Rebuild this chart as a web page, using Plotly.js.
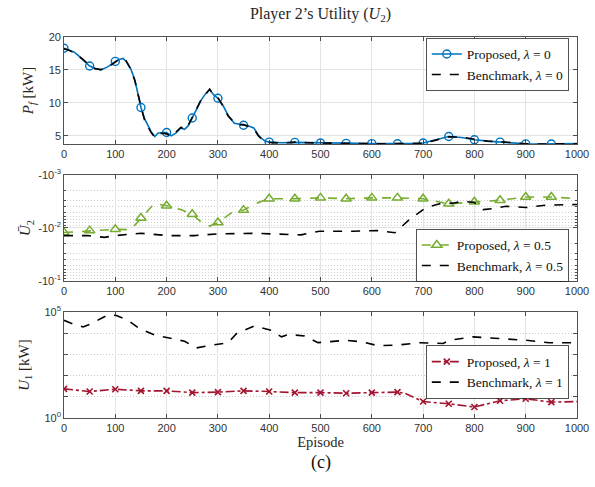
<!DOCTYPE html>
<html><head><meta charset="utf-8">
<script src="https://cdn.plot.ly/plotly-3.0.1.min.js"></script>
<style>html,body{margin:0;padding:0;background:#fff}#chart{width:595px;height:487px}</style>
</head><body><div id="chart"></div>
<script>
// ---------- data ----------
const episodeTicks = [0,100,200,300,400,500,600,700,800,900,1000];

// Panel 1: P_f [kW], lambda = 0
const pfEpisodes = [0,10,20,27,37,50,60,72,86,100,108,115,121,130,138,150,157,164,170,177,183,192,200,209,218,228,235,242,250,259,268,276,284,292,300,310,320,332,341,350,360,370,378,385,392,400,425,450,475,500,525,550,575,600,625,650,675,700,725,750,775,800,825,850,875,900,925,950,975,1000];
const pfProposed = [18.3,18.0,17.7,17.25,16.5,15.6,15.25,15.0,15.5,16.3,16.6,16.75,16.3,15.2,13.5,9.3,7.6,6.4,5.6,4.9,5.4,5.5,5.5,5.0,5.4,6.2,6.0,6.5,7.7,9.0,10.5,11.4,12.0,11.2,10.7,9.6,8.1,6.9,6.8,6.6,6.5,6.2,5.2,4.6,4.2,4.05,3.95,4.0,3.95,3.9,3.85,3.85,3.85,3.82,3.8,3.8,3.82,3.9,4.4,4.9,4.75,4.4,4.2,4.05,3.9,3.78,3.75,3.75,3.78,3.82];
const pfBenchmark = [18.2,18.0,17.6,17.2,16.6,15.7,15.2,15.05,15.45,16.2,16.65,16.8,16.4,15.1,13.4,9.5,7.4,6.3,5.5,4.8,5.3,5.4,5.3,4.9,5.5,6.3,5.9,6.6,7.8,9.1,10.6,11.3,12.1,11.1,10.8,9.5,8.0,7.0,6.7,6.7,6.4,6.1,5.1,4.5,4.1,4.0,3.9,4.05,3.95,3.9,3.85,3.9,3.85,3.8,3.8,3.8,3.8,3.85,4.35,4.85,4.8,4.45,4.2,4.1,3.9,3.8,3.75,3.75,3.75,3.8];

// Panel 2: U2 bar (negative values, shown by magnitude), lambda = 0.5
const u2PropEpisodes = [0,50,100,130,150,176,200,228,250,268,284,300,326,350,372,400,450,500,550,600,650,700,750,800,850,900,950,1000];
const u2PropMagnitude = [0.0122,0.0112,0.0106,0.0108,0.0065,0.00345,0.0038,0.0045,0.0055,0.0078,0.0092,0.0079,0.0052,0.0046,0.0035,0.0028,0.0028,0.0027,0.0028,0.0027,0.0027,0.0028,0.0035,0.0032,0.0030,0.0026,0.0026,0.0028];
const u2BenchEpisodes = [0,46,79,100,150,202,254,300,371,404,462,485,498,563,612,645,675,706,732,758,777,800,817,836,862,901,940,1000];
const u2BenchMagnitude = [0.0139,0.0139,0.015,0.0139,0.0126,0.0139,0.0139,0.0129,0.0126,0.0129,0.0135,0.0121,0.0115,0.0115,0.0112,0.0123,0.0067,0.0041,0.0035,0.0034,0.00313,0.0033,0.0045,0.0043,0.0039,0.0041,0.0037,0.0036];
const u2TickVals = [0.001,0.01,0.1];
const u2TickText = ['-10<sup>-3</sup>','-10<sup>-2</sup>','-10<sup>-1</sup>'];
const u2MinorVals = [0.002,0.003,0.004,0.005,0.006,0.007,0.008,0.009,0.02,0.03,0.04,0.05,0.06,0.07,0.08,0.09];

// Panel 3: U1 [kW], lambda = 1
const u1PropEpisodes = [0,50,100,150,200,250,300,350,400,450,500,550,600,650,664,700,750,800,850,900,950,1000];
const u1Proposed = [23.7,17.8,22.9,19.1,19.1,15.8,16.6,19.1,17.8,15.8,15.8,14.8,15.8,16.6,14.8,6.0,4.7,3.3,6.5,8.1,5.6,6.0];
const u1BenchEpisodes = [0,20,37,53,86,102,125,147,177,203,235,258,287,320,336,371,404,424,437,469,495,550,583,612,647,693,739,752,797,849,901,946,1000];
const u1Benchmark = [40700,25700,20000,28200,75000,69200,40700,16600,8130,6030,4220,2040,2750,3550,9550,21900,13800,6760,8710,7500,3630,4680,3890,2570,2750,3550,3310,4680,6760,5620,4680,3550,3550];
const u1TickVals = [1,100000];
const u1TickText = ['10<sup>0</sup>','10<sup>5</sup>'];
const u1MinorVals = [10,100,1000,10000];

// ---------- styling ----------
const serif = 'Liberation Serif, "Times New Roman", serif';
const sans = 'Liberation Sans, Arial, sans-serif';
const ink = '#262626';
const markerStep = 50;
function markerColors(xs, col) {
  return xs.map(x => (x % markerStep === 0 && x < 1000) ? col : 'rgba(0,0,0,0)');
}
const blue = '#0072BD', green = '#77AC30', red = '#A2142F';

const traces = [
  {x: pfEpisodes, y: pfProposed, xaxis:'x', yaxis:'y', mode:'lines+markers', name:'Proposed, <i>λ</i> = 0', legend:'legend',
   line:{color:blue, width:1.6}, marker:{symbol:'circle-open', size:8, color:markerColors(pfEpisodes, blue), line:{width:1.4}}},
  {x: pfEpisodes, y: pfBenchmark, xaxis:'x', yaxis:'y', mode:'lines', name:'Benchmark, <i>λ</i> = 0', legend:'legend',
   line:{color:'#000', width:1.6, dash:'dash'}},
  {x: u2PropEpisodes, y: u2PropMagnitude, xaxis:'x2', yaxis:'y2', mode:'lines+markers', name:'Proposed, <i>λ</i> = 0.5', legend:'legend2',
   line:{color:green, width:1.6, dash:'dash'}, marker:{symbol:'triangle-up-open', size:9, color:markerColors(u2PropEpisodes, green), line:{width:1.5}}},
  {x: u2BenchEpisodes, y: u2BenchMagnitude, xaxis:'x2', yaxis:'y2', mode:'lines', name:'Benchmark, <i>λ</i> = 0.5', legend:'legend2',
   line:{color:'#000', width:1.6, dash:'dash'}},
  {x: u1PropEpisodes, y: u1Proposed, xaxis:'x3', yaxis:'y3', mode:'lines+markers', name:'Proposed, <i>λ</i> = 1', legend:'legend3',
   line:{color:red, width:1.6, dash:'dashdot'}, marker:{symbol:'x-thin-open', size:6, color:markerColors(u1PropEpisodes, red), line:{width:1.6}}},
  {x: u1BenchEpisodes, y: u1Benchmark, xaxis:'x3', yaxis:'y3', mode:'lines', name:'Benchmark, <i>λ</i> = 1', legend:'legend3',
   line:{color:'#000', width:1.6, dash:'dash'}}
];

const axBase = {showline:true, linecolor:ink, linewidth:0.8, mirror:'ticks', ticks:'inside', ticklen:4, tickwidth:0.8, tickcolor:ink,
  tickfont:{family:sans, size:11, color:'#333'}, zeroline:false, showgrid:true, gridcolor:'#e3e3e3', gridwidth:1, automargin:false};
function xAx(anchor) {
  return Object.assign({}, axBase, {anchor:anchor, range:[0,1000], tickmode:'array', tickvals:episodeTicks});
}
const legBase = {xanchor:'right', x:0.9844, yanchor:'middle', bgcolor:'#fff', bordercolor:ink, borderwidth:0.8,
  font:{family:serif, size:13.5, color:'#111'}, tracegroupgap:0};
const dotGrid = '1px,2px';

const layout = {
  width:595, height:487,
  margin:{l:64, r:18, t:37, b:69},
  paper_bgcolor:'#fff', plot_bgcolor:'#fff',
  showlegend:true,
  title:{text:'Player 2’s Utility (<i>U</i><sub>2</sub>)', font:{family:serif, size:16, color:ink}, x:0.5, xref:'paper', y:1-13/487, yref:'container', yanchor:'middle'},
  xaxis: xAx('y'),
  xaxis2: xAx('y2'),
  xaxis3: Object.assign(xAx('y3'), {title:{text:'Episode', font:{family:serif, size:14.5, color:ink}, standoff:3}}),
  yaxis: Object.assign({}, axBase, {domain:[0.719,1], range:[3.75,20], tickmode:'array', tickvals:[5,10,15,20],
    title:{text:'<i>P</i><sub><i>f</i></sub> [kW]', font:{family:serif, size:15, color:ink}, standoff:11}}),
  yaxis2: Object.assign({}, axBase, {domain:[0.3596,0.6378], type:'log', range:[-1,-3], tickmode:'array', tickvals:u2TickVals, ticktext:u2TickText,
    minor:{tickmode:'array', tickvals:u2MinorVals, ticks:'inside', ticklen:2, tickcolor:ink, showgrid:true, gridcolor:'#cfcfcf', griddash:dotGrid, gridwidth:1},
    title:{text:'<i>Ū</i><sub>2</sub>', font:{family:serif, size:15, color:ink}, standoff:3}}),
  yaxis3: Object.assign({}, axBase, {domain:[0,0.278], type:'log', range:[0,5], tickmode:'array', tickvals:u1TickVals, ticktext:u1TickText,
    minor:{tickmode:'array', tickvals:u1MinorVals, ticks:'inside', ticklen:4, tickcolor:ink, showgrid:true, gridcolor:'#c8c8c8', griddash:dotGrid, gridwidth:1},
    title:{text:'<i>U</i><sub>1</sub> [kW]', font:{family:serif, size:15, color:ink}, standoff:11}}),
  legend: Object.assign({}, legBase, {y:0.928}),
  legend2: Object.assign({}, legBase, {y:0.4268}),
  legend3: Object.assign({}, legBase, {y:0.1207}),
  annotations:[
    {text:'(c)', xref:'paper', yref:'paper', x:0.5, y:-0.1155, yanchor:'middle', showarrow:false,
     font:{family:serif, size:18, color:'#111'}}
  ]
};

Plotly.newPlot('chart', traces, layout, {displayModeBar:false, staticPlot:true});
</script></body></html>
